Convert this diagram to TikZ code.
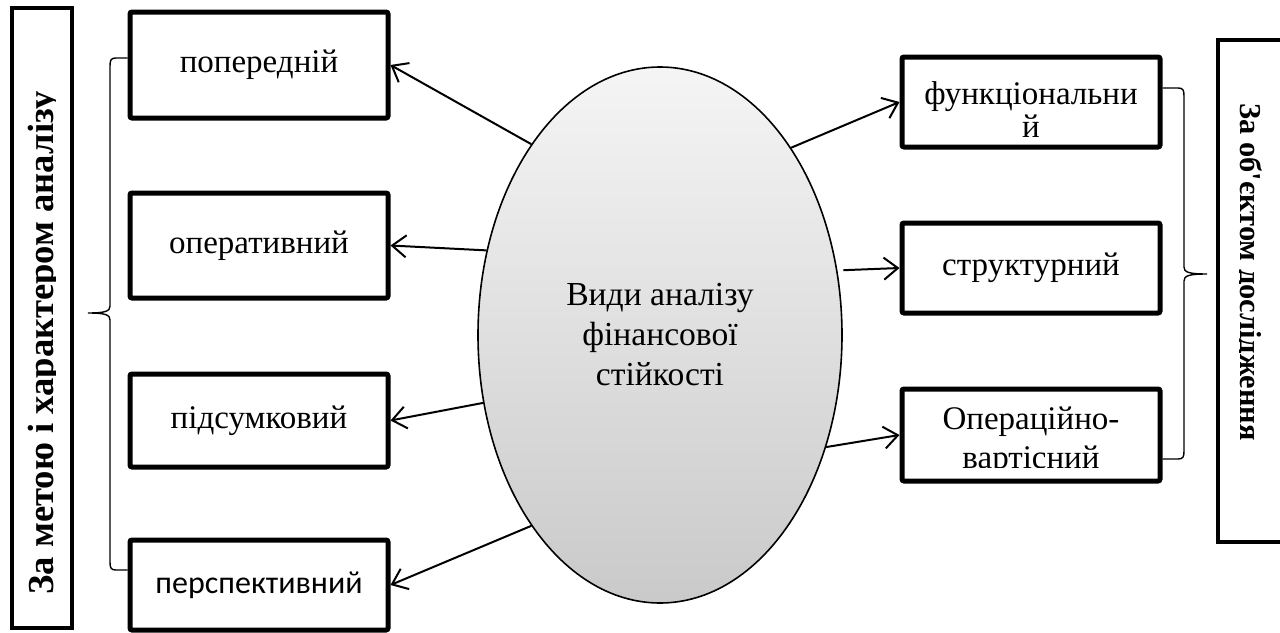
\documentclass[tikz,border=0pt]{standalone}
\usepackage{fontspec}
\setmainfont{Liberation Serif}
\newfontfamily\tnr{Liberation Serif}
\newfontfamily\calibri{Carlito}
\usetikzlibrary{shapes.geometric,arrows.meta}
\begin{document}
\begin{tikzpicture}[x=0.5pt,y=-0.5pt,font=\tnr\fontsize{16.5}{20}\selectfont,
	box/.style={draw,line width=2.5pt,rounded corners=1pt,minimum width=129pt,inner sep=0pt,align=center},
	side/.style={draw,line width=2pt,inner sep=0pt},
	arr/.style={-{Straight Barb[length=7pt,width=11pt]},line width=1pt},
	brace/.style={line width=0.7pt}]
	\useasboundingbox (0,0) rectangle (1280,632);
	\node[side,minimum width=30pt,minimum height=310pt] (L) at (42,318) {};
	\node[side,minimum width=36pt,minimum height=251pt] (R) at (1254,291) {};
	\begin{scope}
		\clip (14,10) rectangle (55,626);
		\node[rotate=90,anchor=base,font=\tnr\bfseries\fontsize{18.3}{20}\selectfont] (Lt) at (54,343) {За метою і характером аналізу};
	\end{scope}
	\begin{scope}
		\clip (1239,42) rectangle (1290,540);
		\node[rotate=-90,anchor=base,font=\tnr\bfseries\fontsize{15.2}{20}\selectfont] (Rt) at (1240,272) {За об'єктом дослідження};
	\end{scope}
	\foreach \n/\y/\h/\t in {p1/65/53/попередній,p2/245.5/52.5/оперативний,p3/420.5/46.5/підсумковий}
	\node[box,minimum height=\h pt] (\n) at (259,\y) {\t};
	\node[box,minimum height=45pt,font=\calibri\fontsize{16}{19}\selectfont] (p4) at (259,585) {перспективний};
	\node[box,minimum height=45pt] (r1) at (1031,102) {};
	\node[align=center,font=\tnr\fontsize{16.5}{16.5}\selectfont] (r1t) at (1031,110) {функціональни\\й};
	\node[box,minimum height=45pt] (r2) at (1031,268) {структурний};
	\node[box,minimum height=46pt] (r3) at (1031,435) {};
	\begin{scope}
		\clip (904,391) rectangle (1158,467);
		\node[align=center,font=\tnr\fontsize{16.5}{19.5}\selectfont] (r3t) at (1031,441) {Операційно-\\вартісний};
	\end{scope}
	\node[ellipse,draw,line width=0.8pt,top color=gray!8,bottom color=gray!42,minimum width=182pt,minimum height=268pt,inner sep=0pt,align=center,font=\tnr\fontsize{16.8}{20}\selectfont] (ell) at (660,335) {Види аналізу\\фінансової\\стійкості};
	\foreach \a/\b in {124/p1,154/p2,201/p3,236/p4}
	\draw[arr] (ell.\a) -- (\b.east);
	\draw[arr] (ell.55) -- (r1.west);
	\draw[arr,shorten <=3pt] (ell.20) -- (r2.west);
	\draw[arr] (ell.326) -- (r3.west);
	\draw[brace] (p1.west|-0,58) -- (116,58) .. controls (111,58) and (110,60) .. (110,66) -- (110,306) .. controls (110,311) and (106,313) .. (88,313) .. controls (106,313) and (110,315) .. (110,320) -- (110,562) .. controls (110,568) and (111,570) .. (116,570) -- (p4.west|-0,570);
	\draw[brace] (r1.east|-0,88) -- (1178,88) .. controls (1183,88) and (1184,90) .. (1184,96) -- (1184,267) .. controls (1184,272) and (1188,274) .. (1207,274) .. controls (1188,274) and (1184,276) .. (1184,281) -- (1184,451) .. controls (1184,457) and (1183,459) .. (1178,459) -- (r3.east|-0,459);
\end{tikzpicture}
\end{document}
